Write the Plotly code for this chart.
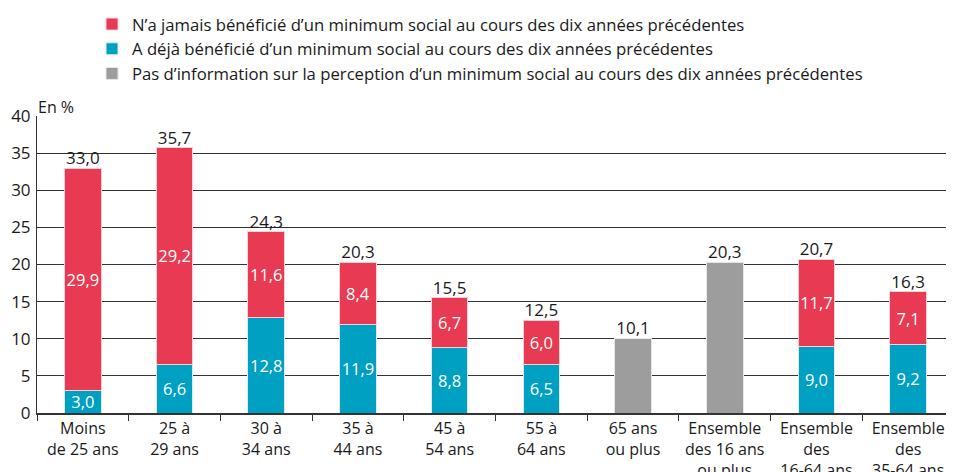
import plotly.graph_objects as go

categories = ["Moins<br>de 25 ans", "25 à<br>29 ans", "30 à<br>34 ans", "35 à<br>44 ans", "45 à<br>54 ans",
              "55 à<br>64 ans", "65 ans<br>ou plus", "Ensemble<br>des 16 ans<br>ou plus",
              "Ensemble<br>des<br>16-64 ans", "Ensemble<br>des<br>35-64 ans"]
deja = [3.0, 6.6, 12.8, 11.9, 8.8, 6.5, None, None, 9.0, 9.2]
jamais = [29.9, 29.2, 11.6, 8.4, 6.7, 6.0, None, None, 11.7, 7.1]
sans_info = [None, None, None, None, None, None, 10.1, 20.3, None, None]
totaux = [33.0, 35.7, 24.3, 20.3, 15.5, 12.5, 10.1, 20.3, 20.7, 16.3]

def fmt(v):
    return "" if v is None else f"{v:.1f}".replace(".", ",")

FONT = "Open Sans"
RED = "#E83A52"
BLUE = "#00A0C2"
GREY = "#9D9D9D"

fig = go.Figure()
fig.add_bar(x=categories, y=deja, name="A déjà bénéficié d’un minimum social au cours des dix années précédentes",
            marker=dict(color=BLUE, line=dict(color="#d9eef3", width=1)),
            text=[fmt(v) for v in deja], textposition="inside", insidetextanchor="middle", textangle=0,
            constraintext="none", textfont=dict(color="white", size=16.5, family=FONT), legendrank=2)
fig.add_bar(x=categories, y=jamais, name="N’a jamais bénéficié d’un minimum social au cours des dix années précédentes",
            marker=dict(color=RED, line=dict(color="#f7d0d6", width=1)),
            text=[fmt(v) for v in jamais], textposition="inside", insidetextanchor="middle", textangle=0,
            constraintext="none", textfont=dict(color="white", size=16.5, family=FONT), legendrank=1)
fig.add_bar(x=categories, y=sans_info, name="Pas d’information sur la perception d’un minimum social au cours des dix années précédentes",
            marker=dict(color=GREY, line=dict(color="#e6e6e6", width=1)), legendrank=3)
fig.add_scatter(x=categories, y=totaux, mode="text", text=[fmt(v) for v in totaux],
                textposition="top center", textfont=dict(color="#1a1a1a", size=17, family=FONT),
                showlegend=False, hoverinfo="skip", cliponaxis=False)

fig.update_layout(
    barmode="stack", bargap=0.6,
    width=946, height=464,
    margin=dict(l=29, r=0, t=108, b=59, autoexpand=False),
    paper_bgcolor="white", plot_bgcolor="white",
    font=dict(family=FONT, size=16, color="#1a1a1a"),
    legend=dict(orientation="v", x=0.06, y=1.368,
                xanchor="left", yanchor="top", font=dict(size=16.7, color="#1a1a1a"),
                traceorder="normal", itemwidth=30, tracegroupgap=0, bgcolor="rgba(0,0,0,0)"),
    showlegend=True,
    annotations=[dict(text="En %", xref="paper", yref="paper", x=0, y=1.0, xanchor="left",
                      yanchor="bottom", showarrow=False, font=dict(size=16, color="#1a1a1a"), xshift=-1, yshift=-4)],
)
fig.update_yaxes(range=[0, 40], dtick=5, showgrid=True, gridcolor="#333333", gridwidth=1,
                 showline=True, linecolor="#333333", linewidth=1, ticks="", zeroline=False,
                 tickfont=dict(size=17, color="#1a1a1a"), ticklabelstandoff=2)
fig.update_xaxes(showline=True, linecolor="#333333", linewidth=2, ticks="outside", tickson="boundaries",
                 ticklen=6, tickcolor="#333333", tickfont=dict(size=16, color="#1a1a1a"), showgrid=False,
                 ticklabelstandoff=0)

fig.write_html("out.html")
